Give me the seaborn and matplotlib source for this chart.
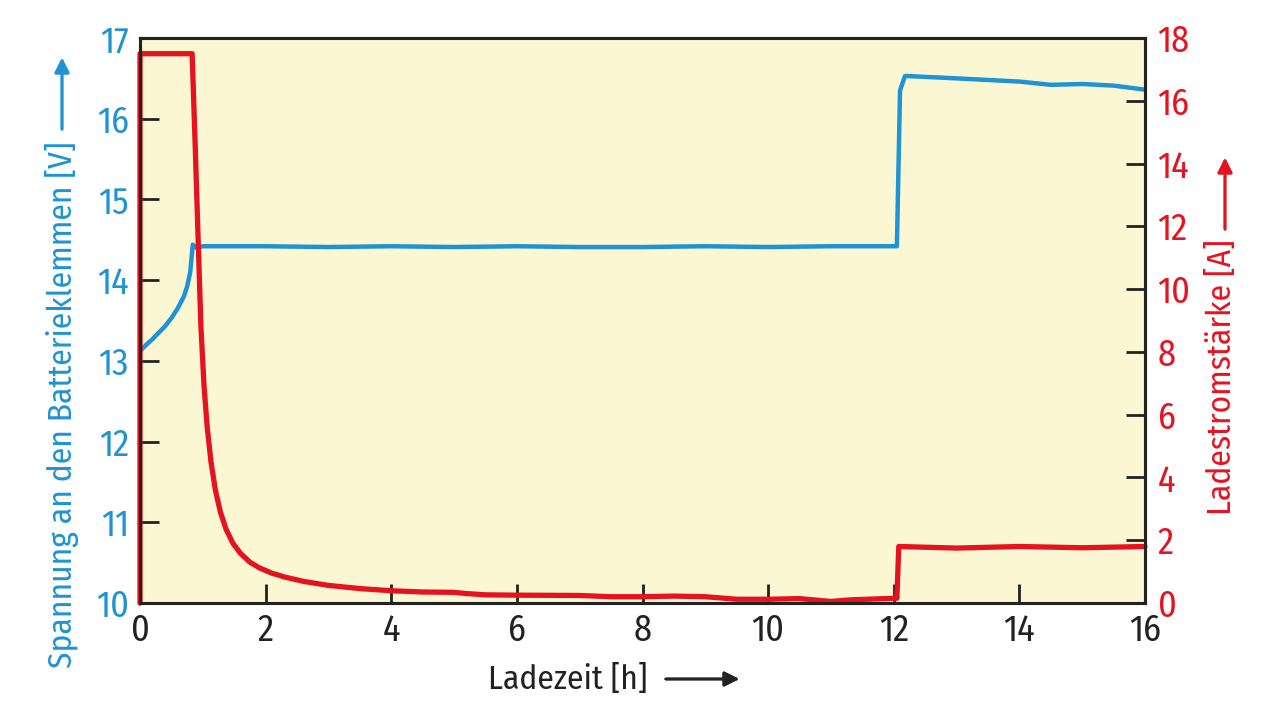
import matplotlib
matplotlib.use("Agg")
import numpy as np
import pandas as pd
import seaborn as sns
from matplotlib import pyplot as plt

# Charging voltage (left axis)
t_volt = [0, 0.1, 0.2, 0.3, 0.4, 0.5, 0.6, 0.7, 0.75, 0.8, 0.84, 0.9, 1.0,
          2, 3, 4, 5, 6, 7, 8, 9, 10, 11, 12.05, 12.1, 12.18,
          13, 13.5, 14, 14.5, 15, 15.5, 16]
volt = [13.12, 13.2, 13.27, 13.35, 13.43, 13.53, 13.65, 13.8, 13.92, 14.1, 14.44, 14.4, 14.42,
        14.42, 14.41, 14.42, 14.41, 14.42, 14.41, 14.41, 14.42, 14.41, 14.42, 14.42, 16.35, 16.53,
        16.5, 16.48, 16.46, 16.42, 16.43, 16.41, 16.36]

# Charging current (right axis)
t_amp = [0, 0, 0.83, 0.88, 0.93, 0.97, 1.02, 1.07, 1.13, 1.2, 1.28, 1.37, 1.48, 1.6, 1.75,
         1.9, 2.1, 2.3, 2.6, 3.0, 3.5, 4, 4.5, 5, 5.2, 5.5, 6, 7, 7.5, 8, 8.5, 9, 9.5,
         10, 10.5, 11, 11.3, 12, 12.05, 12.08, 13, 14, 15, 16]
amp = [0, 17.5, 17.5, 14.5, 11.3, 8.8, 6.9, 5.6, 4.5, 3.6, 2.9, 2.35, 1.9, 1.58, 1.3,
       1.12, 0.95, 0.83, 0.69, 0.56, 0.46, 0.39, 0.35, 0.34, 0.3, 0.26, 0.25, 0.24, 0.2, 0.2, 0.22, 0.2, 0.12,
       0.12, 0.14, 0.05, 0.1, 0.15, 0.15, 1.8, 1.75, 1.8, 1.76, 1.8]

x_ticks = [0, 2, 4, 6, 8, 10, 12, 14, 16]
v_ticks = [10, 11, 12, 13, 14, 15, 16, 17]
a_ticks = [0, 2, 4, 6, 8, 10, 12, 14, 16, 18]

BLUE = "#1f93d3"
RED = "#e5131f"
BG = "#fcf7d3"
DARK = "#222222"

sns.set_theme(style="ticks")
plt.rcParams["font.family"] = ["Fira Sans Condensed", "Roboto Condensed", "DejaVu Sans"]

fig = plt.figure(figsize=(12.8, 7.19), dpi=100)
ax = fig.add_axes([140 / 1280, 1 - 603 / 719, 1005 / 1280, 565 / 719])
ax.set_facecolor(BG)
ax2 = ax.twinx()

df_v = pd.DataFrame({"t": t_volt, "v": volt})
df_a = pd.DataFrame({"t": t_amp, "a": amp})

sns.lineplot(data=df_v, x="t", y="v", ax=ax, color=BLUE, linewidth=3.2,
             estimator=None, sort=False)
sns.lineplot(data=df_a, x="t", y="a", ax=ax2, color=RED, linewidth=3.8,
             estimator=None, sort=False, clip_on=False)

ax.set_xlim(0, 16)
ax.set_ylim(10, 17)
ax2.set_ylim(0, 18)
ax.set_xticks(x_ticks)
ax.set_yticks(v_ticks)
ax2.set_yticks(a_ticks)
ax.set_xlabel("")
ax.set_ylabel("")
ax2.set_ylabel("")

tick_kw = dict(direction="in", length=14, width=2, color=DARK, labelsize=26)
ax.tick_params(axis="x", pad=7, labelcolor=DARK, **tick_kw)
ax.tick_params(axis="y", pad=8, labelcolor=BLUE, **tick_kw)
ax2.tick_params(axis="y", pad=9, labelcolor=RED, **tick_kw)

for a in (ax, ax2):
    for s in a.spines.values():
        s.set_color(DARK)
        s.set_linewidth(2.2)

# axis titles with their arrows
fig.text(62 / 1280, 1 - 405 / 719, "Spannung an den Batterieklemmen [V]", rotation=90,
         ha="center", va="center", color=BLUE, fontsize=24)
fig.text(1222 / 1280, 1 - 377 / 719, "Ladestromstärke [A]", rotation=90,
         ha="center", va="center", color=RED, fontsize=24)
fig.text(568 / 1280, 1 - 680 / 719, "Ladezeit [h]", ha="center", va="center",
         color=DARK, fontsize=24)

arrow = dict(arrowstyle="-|>", mutation_scale=22, linewidth=2)
fig.add_artist(plt.annotate("", xy=(62, 719 - 55), xytext=(62, 719 - 132),
                            xycoords="figure pixels",
                            arrowprops=dict(color=BLUE, **arrow)))
fig.add_artist(plt.annotate("", xy=(1225, 719 - 155), xytext=(1225, 719 - 232),
                            xycoords="figure pixels",
                            arrowprops=dict(color=RED, **arrow)))
fig.add_artist(plt.annotate("", xy=(742, 719 - 679), xytext=(663, 719 - 679),
                            xycoords="figure pixels",
                            arrowprops=dict(color=DARK, **arrow)))

fig.savefig("out.png", dpi=100, facecolor="white")
